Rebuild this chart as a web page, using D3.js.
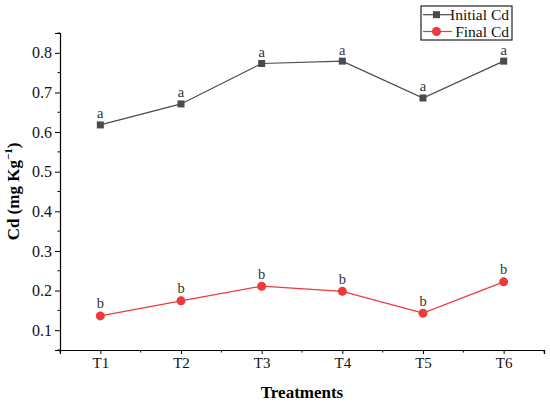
<!DOCTYPE html>
<html>
<head>
<meta charset="utf-8">
<script src="https://cdn.jsdelivr.net/npm/d3@7"></script>
<style>
  body { margin: 0; background: #fff; }
  text { font-family: "Liberation Serif", "Times New Roman", serif; }
</style>
</head>
<body>
<div id="chart"></div>
<script>
// Data
const treatments = ["T1", "T2", "T3", "T4", "T5", "T6"];
const initialCd = [0.618, 0.671, 0.773, 0.779, 0.686, 0.779];
const finalCd = [0.136, 0.174, 0.211, 0.198, 0.143, 0.222];
const initialLetters = ["a", "a", "a", "a", "a", "a"];
const finalLetters = ["b", "b", "b", "b", "b", "b"];
const yTicks = [0.1, 0.2, 0.3, 0.4, 0.5, 0.6, 0.7, 0.8];
const yMinor = [0.05, 0.15, 0.25, 0.35, 0.45, 0.55, 0.65, 0.75, 0.85];

const width = 550, height = 402;
const margin = {top: 33, right: 6, bottom: 52, left: 60};
const grey = "#4b4b4b", red = "#ee3a3a";

const svg = d3.select("#chart").append("svg")
    .attr("width", width)
    .attr("height", height);

const x = d3.scalePoint()
    .domain(treatments)
    .range([margin.left, width - margin.right])
    .padding(0.5);

const y = d3.scaleLinear()
    .domain([0.05, 0.85])
    .range([height - margin.bottom, margin.top]);

const step = x.step();

// Axes
const xAxis = svg.append("g")
    .attr("transform", `translate(0,${height - margin.bottom})`)
    .call(d3.axisBottom(x).tickSizeOuter(0).tickSize(4).tickPadding(3));
xAxis.select(".domain").attr("stroke", "#000").attr("stroke-width", 1.2);
xAxis.selectAll("text").attr("font-size", 15).attr("fill", "#111");

// minor x ticks at category boundaries
svg.append("g").selectAll("line")
    .data(d3.range(treatments.length + 1))
    .join("line")
    .attr("x1", i => margin.left + i * step)
    .attr("x2", i => margin.left + i * step)
    .attr("y1", height - margin.bottom)
    .attr("y2", height - margin.bottom + 2.5)
    .attr("stroke", "#000");

const yAxis = svg.append("g")
    .attr("transform", `translate(${margin.left},0)`)
    .call(d3.axisLeft(y).tickValues(yTicks).tickFormat(d3.format(".1f"))
        .tickSizeOuter(0).tickSize(5).tickPadding(3));
yAxis.select(".domain").attr("stroke", "#000").attr("stroke-width", 1.2);
yAxis.selectAll("text").attr("font-size", 16).attr("fill", "#111");

svg.append("g").selectAll("line")
    .data(yMinor)
    .join("line")
    .attr("x1", margin.left - 2.5)
    .attr("x2", margin.left)
    .attr("y1", d => y(d))
    .attr("y2", d => y(d))
    .attr("stroke", "#000");

// Axis titles
svg.append("text")
    .attr("x", (margin.left + width - margin.right) / 2)
    .attr("y", 398)
    .attr("text-anchor", "middle")
    .attr("font-size", 17)
    .attr("font-weight", "bold")
    .text("Treatments");

const yTitle = svg.append("text")
    .attr("transform", `translate(19,${(margin.top + height - margin.bottom) / 2}) rotate(-90)`)
    .attr("text-anchor", "middle")
    .attr("font-size", 17)
    .attr("font-weight", "bold");
yTitle.append("tspan").text("Cd (mg Kg");
yTitle.append("tspan").attr("dy", -7).attr("font-size", 11).text("−1");
yTitle.append("tspan").attr("dy", 7).text(")");

// Lines
const line = d3.line()
    .x((d, i) => x(treatments[i]))
    .y(d => y(d));

svg.append("path")
    .datum(initialCd)
    .attr("d", line)
    .attr("fill", "none")
    .attr("stroke", grey)
    .attr("stroke-width", 1.2);

svg.append("path")
    .datum(finalCd)
    .attr("d", line)
    .attr("fill", "none")
    .attr("stroke", red)
    .attr("stroke-width", 1.2);

// Markers
svg.append("g").selectAll("rect")
    .data(initialCd)
    .join("rect")
    .attr("x", (d, i) => x(treatments[i]) - 3.5)
    .attr("y", d => y(d) - 3.5)
    .attr("width", 7)
    .attr("height", 7)
    .attr("fill", grey);

svg.append("g").selectAll("circle")
    .data(finalCd)
    .join("circle")
    .attr("cx", (d, i) => x(treatments[i]))
    .attr("cy", d => y(d))
    .attr("r", 4.5)
    .attr("fill", red);

// Significance letters
svg.append("g").selectAll("text")
    .data(initialCd)
    .join("text")
    .attr("x", (d, i) => x(treatments[i]))
    .attr("y", d => y(d) - 6.5)
    .attr("text-anchor", "middle")
    .attr("font-size", 14.5)
    .attr("fill", "#333")
    .text((d, i) => initialLetters[i]);

svg.append("g").selectAll("text")
    .data(finalCd)
    .join("text")
    .attr("x", (d, i) => x(treatments[i]))
    .attr("y", d => y(d) - 7.5)
    .attr("text-anchor", "middle")
    .attr("font-size", 14.5)
    .attr("fill", "#333")
    .text((d, i) => finalLetters[i]);

// Legend
const legend = svg.append("g");
legend.append("rect")
    .attr("x", 421)
    .attr("y", 6)
    .attr("width", 91)
    .attr("height", 34)
    .attr("fill", "#fff")
    .attr("stroke", "#222")
    .attr("stroke-width", 1.2);

const legendItems = [
  {name: "Initial Cd", color: grey, shape: "square"},
  {name: "Final Cd", color: red, shape: "circle"}
];

legendItems.forEach((item, i) => {
  const cy = 14.7 + i * 16.8;
  legend.append("line")
      .attr("x1", 423).attr("x2", 452)
      .attr("y1", cy).attr("y2", cy)
      .attr("stroke", item.color)
      .attr("stroke-width", 1.2);
  if (item.shape === "square") {
    legend.append("rect")
        .attr("x", 433).attr("y", cy - 3.5)
        .attr("width", 7).attr("height", 7)
        .attr("fill", item.color);
  } else {
    legend.append("circle")
        .attr("cx", 436.5).attr("cy", cy)
        .attr("r", 4.5)
        .attr("fill", item.color);
  }
  legend.append("text")
      .attr("x", 509)
      .attr("y", cy + 5.5)
      .attr("text-anchor", "end")
      .attr("font-size", 15.5)
      .attr("fill", "#111")
      .text(item.name);
});
</script>
</body>
</html>
